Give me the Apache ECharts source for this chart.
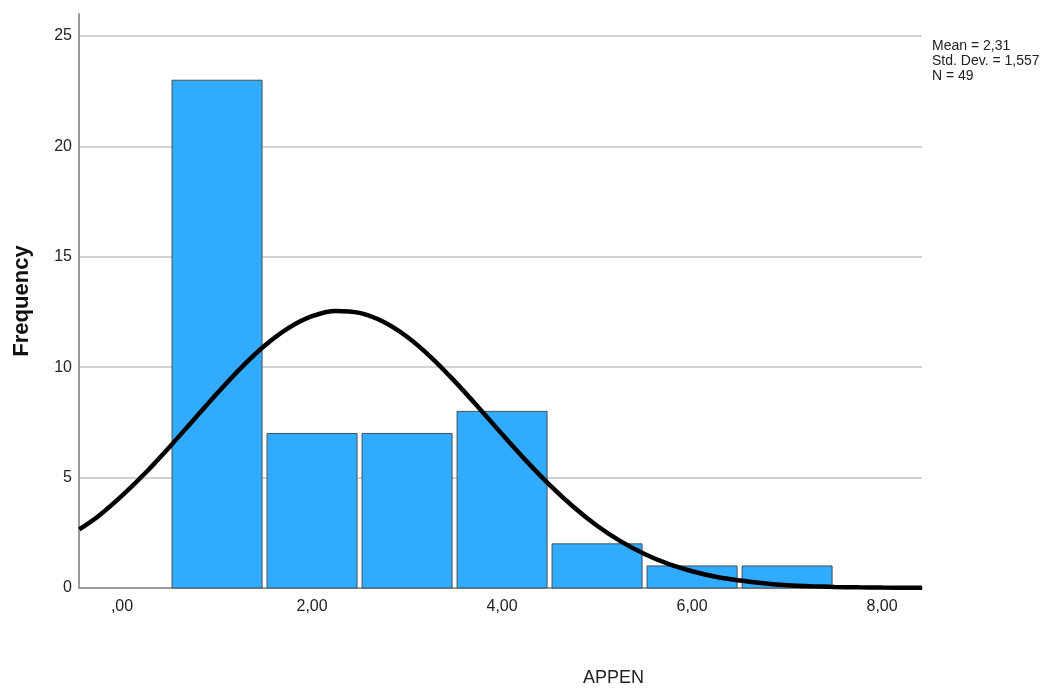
<!DOCTYPE html>
<html>
<head>
<meta charset="utf-8">
<script src="https://cdn.jsdelivr.net/npm/echarts@6/dist/echarts.min.js"></script>
<style>html,body{margin:0;padding:0;background:#fff;}#c{width:1062px;height:691px;}</style>
</head>
<body>
<div id="c"></div>
<script>
// Histogram bins (bin centre) and frequencies
const binCenters = [1, 2, 3, 4, 5, 6, 7];
const frequencies = [23, 7, 7, 8, 2, 1, 1];
// Normal curve points
const curveX = [-0.45, -0.25, 0, 0.25, 0.5, 0.75, 1, 1.25, 1.5, 1.75, 2, 2.25, 2.5, 2.75, 3, 3.25, 3.5, 3.75, 4, 4.25, 4.5, 4.75, 5, 5.25, 5.5, 5.75, 6, 6.25, 6.5, 6.75, 7, 7.25, 7.5, 7.75, 8, 8.42];
const curveY = [2.65, 3.25, 4.18, 5.23, 6.39, 7.6, 8.81, 9.96, 10.97, 11.77, 12.31, 12.55, 12.46, 12.06, 11.38, 10.46, 9.37, 8.19, 6.97, 5.78, 4.67, 3.68, 2.82, 2.11, 1.54, 1.09, 0.76, 0.51, 0.34, 0.22, 0.13, 0.08, 0.05, 0.03, 0.02, 0.01];
// Axis ticks
const xTicks = [0, 2, 4, 6, 8];
const xTickLabels = [',00', '2,00', '4,00', '6,00', '8,00'];
const yTicks = [0, 5, 10, 15, 20, 25];
const statsLines = ['Mean = 2,31', 'Std. Dev. = 1,557', 'N = 49'];
const xAxisTitle = 'APPEN';
const yAxisTitle = 'Frequency';

const FONT = '"Liberation Sans", Arial, sans-serif';
const chart = echarts.init(document.getElementById('c'));
chart.setOption({
  backgroundColor: '#fff',
  animation: false,
  grid: { left: 79, right: 140, top: 14, bottom: 103 },
  title: [
    { text: xAxisTitle, left: 578, top: 664, textStyle: { fontFamily: FONT, fontSize: 18, fontWeight: 'normal', color: '#222' } },
    { text: statsLines.join('\n'), left: 927, top: 34, textStyle: { fontFamily: FONT, fontSize: 14, lineHeight: 15, fontWeight: 'normal', color: '#222' } }
  ],
  xAxis: {
    type: 'value', min: -0.453, max: 8.42,
    axisLine: { show: true, onZero: false, lineStyle: { color: '#9a9a9a', width: 2 } },
    axisTick: { show: false },
    splitLine: { show: false },
    axisLabel: {
      customValues: xTicks,
      formatter: v => xTickLabels[xTicks.indexOf(v)],
      margin: 11, fontFamily: FONT, fontSize: 16, color: '#222'
    }
  },
  yAxis: {
    type: 'value', min: 0, max: 26, interval: 5,
    name: yAxisTitle, nameLocation: 'middle', nameGap: 46,
    nameTextStyle: { fontFamily: FONT, fontSize: 22, fontWeight: 'bold', color: '#111' },
    axisLine: { show: true, onZero: false, lineStyle: { color: '#9a9a9a', width: 2 } },
    axisTick: { show: false },
    axisLabel: { showMaxLabel: false, margin: 7, fontFamily: FONT, fontSize: 16, color: '#222' },
    splitLine: { show: true, showMinLine: false, showMaxLine: false, lineStyle: { color: '#d2d2d2', width: 2 } }
  },
  series: [
    {
      type: 'custom',
      data: binCenters.map((c, i) => [c, frequencies[i]]),
      renderItem: function (params, api) {
        const c = api.value(0), f = api.value(1);
        const p0 = api.coord([c - 0.5, f]);
        const p1 = api.coord([c + 0.5, 0]);
        return {
          type: 'rect',
          shape: { x: p0[0] + 2.5, y: p0[1], width: p1[0] - p0[0] - 5, height: p1[1] - p0[1] },
          style: { fill: '#30abfd', stroke: '#46505a', lineWidth: 1 }
        };
      },
      z: 2
    },
    {
      type: 'line',
      data: curveX.map((x, i) => [x, curveY[i]]),
      showSymbol: false, smooth: 0.3,
      lineStyle: { color: '#000', width: 4.5 },
      z: 3
    }
  ]
});
</script>
</body>
</html>
